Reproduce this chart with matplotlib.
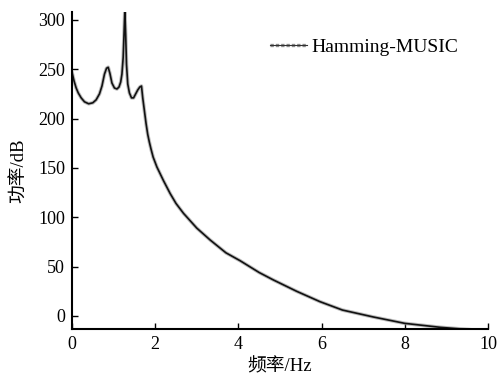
import matplotlib
matplotlib.use("Agg")
import matplotlib.pyplot as plt

# 频率 (Hz) 与功率 (dB)
freq = [0.00, 0.05, 0.10, 0.15, 0.22, 0.30, 0.40, 0.50, 0.58, 0.66, 0.72, 0.78,
        0.83, 0.87, 0.91, 0.96, 1.02, 1.08, 1.13, 1.17, 1.20, 1.23, 1.25, 1.27,
        1.29, 1.31, 1.34, 1.38, 1.43, 1.48, 1.53, 1.58, 1.63, 1.67, 1.70, 1.74,
        1.78, 1.82, 1.86, 1.90, 1.95, 2.04, 2.20, 2.36, 2.50, 2.68, 3.00, 3.32,
        3.70, 4.04, 4.50, 4.84, 5.40, 5.96, 6.50, 7.24, 8.00, 8.85, 9.30, 9.60]
power = [247, 238, 231, 226, 221, 217, 215, 216, 219, 225, 233, 245,
         251, 252, 246, 236, 231, 230, 232, 237, 245, 262, 285, 310,
         285, 255, 235, 226, 221, 221, 225, 229, 232, 233, 221, 208,
         195, 184, 176, 169, 161, 151, 137, 124, 114, 104, 89, 77,
         64, 56, 44, 36.5, 25, 14.5, 6, -1, -7.5, -11.5, -13, -14]

xticks = [0, 2, 4, 6, 8, 10]
yticks = [0, 50, 100, 150, 200, 250, 300]

serif = ['Liberation Serif', 'Noto Sans CJK SC']
plt.rcParams['font.family'] = serif

fig = plt.figure(figsize=(4.99, 3.81), dpi=100)
ax = fig.add_axes([0.1443, 0.1365, 0.8337, 0.832])

g, = ax.plot(freq, power, color='#a0a0a0', lw=2.6, alpha=0.7, solid_capstyle='round')
k, = ax.plot(freq, power, color='#111111', lw=1.2)

ax.set_xlim(0, 10)
ax.set_ylim(-13.2, 308)
ax.set_xticks(xticks)
ax.set_yticks(yticks)
ax.tick_params(direction='in', length=4, width=1, labelsize=13, pad=5)

for s in ['top', 'right']:
    ax.spines[s].set_visible(False)
for s in ['left', 'bottom']:
    ax.spines[s].set_linewidth(1.5)

ax.set_xlabel('频率/Hz', fontsize=13.5, labelpad=4)
ax.set_ylabel('功率/dB', fontsize=13.5, labelpad=7)

hg = plt.Line2D([], [], color='#909090', lw=2.4, ls=(0, (1, 0.6)))
hk = plt.Line2D([], [], color='#333333', lw=0.8)
ax.legend([(hg, hk)], ['Hamming-MUSIC'], loc='center left',
          bbox_to_anchor=(0.476, 0.89), frameon=False, fontsize=14,
          handlelength=1.9, handletextpad=0.25, borderpad=0, borderaxespad=0)

fig.savefig('out.png', dpi=100)
